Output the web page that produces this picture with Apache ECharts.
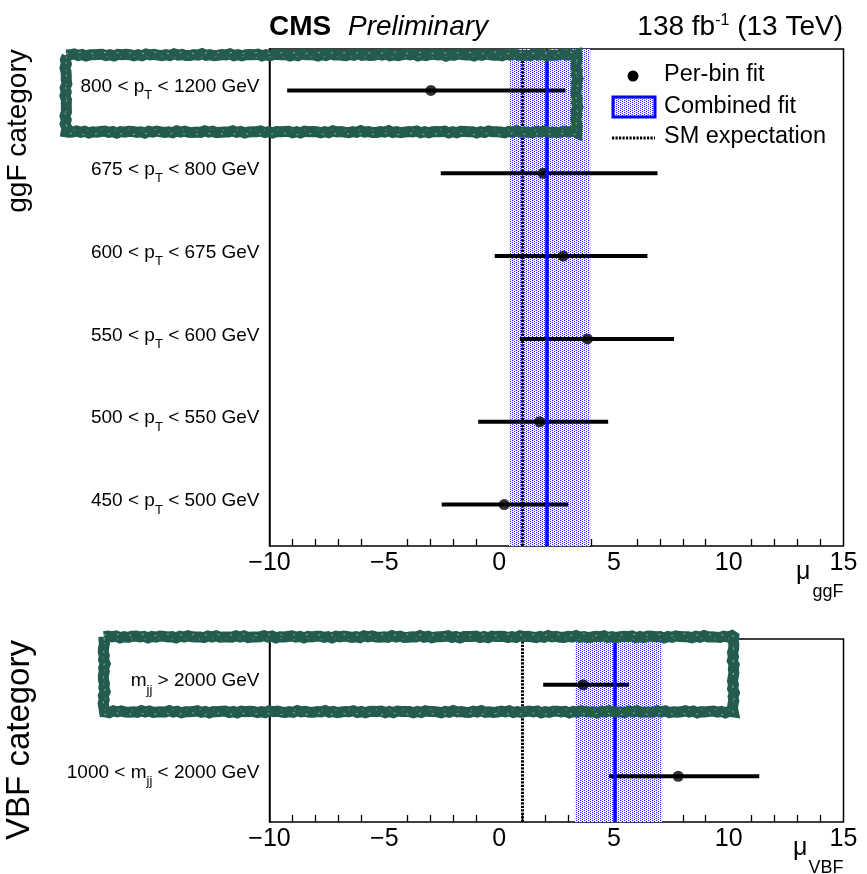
<!DOCTYPE html>
<html><head><meta charset="utf-8">
<script src="https://cdn.jsdelivr.net/npm/echarts@6/dist/echarts.min.js"></script>
<style>html,body{margin:0;padding:0;background:#fff}#c{width:867px;height:874px}</style>
</head><body><div id="c"></div>
<script>
// ---------------- data ----------------
const xMin = -10, xMax = 15, xStep = 5;
const smExpectation = 1;

// ggF panel (bottom -> top)
const ggfCategories = ['450 < p_T < 500 GeV', '500 < p_T < 550 GeV', '550 < p_T < 600 GeV',
                       '600 < p_T < 675 GeV', '675 < p_T < 800 GeV', '800 < p_T < 1200 GeV'];
const ggfCentral = [0.22, 1.77, 3.85, 2.79, 1.92, -2.97];
const ggfLow     = [-2.50, -0.91, 0.90, -0.19, -2.54, -9.23];
const ggfHigh    = [3.01, 4.75, 7.62, 6.46, 6.90, 2.89];
const ggfCombined = [0.43, 2.08, 3.97]; // low, central, high

// VBF panel (bottom -> top)
const vbfCategories = ['1000 < m_jj < 2000 GeV', 'm_jj > 2000 GeV'];
const vbfCentral = [7.80, 3.66];
const vbfLow     = [4.79, 1.92];
const vbfHigh    = [11.33, 5.66];
const vbfCombined = [3.30, 5.04, 7.10];

// highlighted rows (annotation boxes)
const highlights = [
  {panel: 0, category: '800 < p_T < 1200 GeV', xEnd: 3.38},
  {panel: 1, category: 'm_jj > 2000 GeV', xEnd: 10.2}
];

// ---------------- style ----------------
const FF = '"Liberation Sans", Arial, Helvetica, sans-serif';
const G = [
  {left: 269.5, top: 49, width: 574, height: 497},
  {left: 269.5, top: 639, width: 574, height: 183}
];

const pc = document.createElement('canvas'); pc.width = 4; pc.height = 4;
const pctx = pc.getContext('2d');
pctx.fillStyle = '#ffffff'; pctx.fillRect(0, 0, 4, 4);
pctx.fillStyle = '#2a2aff';
[[0,0],[2,1],[0,2],[2,3]].forEach(p => pctx.fillRect(p[0], p[1], 1, 1));
pctx.fillStyle = '#c8c8ff';
[[1,0],[3,2]].forEach(p => pctx.fillRect(p[0], p[1], 1, 1));
const bandPattern = {image: pc, repeat: 'repeat'};
const smDash = [2.2, 1.3];

function catLabel(v) {
  return v.replace(/^(.*?)_(\w+)(.*)$/, (m, a, b, c) => '{n|' + a + '}{s|' + b + '}{n|' + c + '}');
}
const labelRich = {
  n: {fontSize: 19, lineHeight: 22, color: '#000', fontFamily: FF},
  s: {fontSize: 13, lineHeight: 4, padding: [18, 0, 0, 0], color: '#000', fontFamily: FF}
};

function xAxisCfg(i) {
  return {
    gridIndex: i, type: 'value', min: xMin, max: xMax, interval: xStep,
    axisLine: {onZero: false, lineStyle: {color: '#000', width: 1.5}},
    axisTick: {inside: true, length: 13, lineStyle: {color: '#000', width: 1.3}},
    minorTick: {show: true, splitNumber: 5, length: 7, lineStyle: {color: '#000', width: 1.3}},
    splitLine: {show: false},
    axisLabel: {fontSize: 25, color: '#000', fontFamily: FF, margin: 5,
      formatter: v => String(v).replace('-', '\u2212')}
  };
}
function yAxisCfg(i, cats) {
  return {
    gridIndex: i, type: 'category', data: cats,
    axisLine: {onZero: false, lineStyle: {color: '#000', width: 1.5}},
    axisTick: {inside: true, length: 23, alignWithLabel: true, lineStyle: {color: '#000', width: 1.3}},
    axisLabel: {margin: 10, formatter: catLabel, rich: labelRich, padding: [0, 0, 7, 0]},
    splitLine: {show: false}
  };
}
function errRender(params, api) {
  const a = api.coord([api.value(0), api.value(2)]);
  const b = api.coord([api.value(1), api.value(2)]);
  return {type: 'line', shape: {x1: a[0], y1: a[1], x2: b[0], y2: b[1]},
          style: {stroke: '#000', lineWidth: 4}};
}
function panelSeries(i, central, low, high, comb) {
  return [
    {type: 'scatter', xAxisIndex: i, yAxisIndex: i, data: [], z: 1, silent: true,
     markArea: {silent: true, itemStyle: {color: bandPattern},
       data: [[{xAxis: comb[0]}, {xAxis: comb[2]}]]},
     markLine: {silent: true, symbol: ['none', 'none'], label: {show: false},
       data: [
         {xAxis: smExpectation, lineStyle: {color: '#000', width: 3, type: smDash}},
         {xAxis: comb[1], lineStyle: {color: '#0000ff', width: 3.5, type: 'solid'}}
       ]}},
    {type: 'custom', xAxisIndex: i, yAxisIndex: i, z: 3, silent: true,
     renderItem: errRender, encode: {x: [0, 1], y: 2},
     data: low.map((l, k) => [l, high[k], k])},
    {type: 'scatter', xAxisIndex: i, yAxisIndex: i, z: 4, silent: true,
     symbol: 'circle', symbolSize: 11, itemStyle: {color: '#000'},
     data: central.map((c, k) => [c, k])}
  ];
}

const chart = echarts.init(document.getElementById('c'), null, {renderer: 'canvas'});
chart.setOption({
  animation: false,
  backgroundColor: '#fff',
  grid: G.map(g => Object.assign({show: true, borderColor: '#000', borderWidth: 1.5, backgroundColor: 'transparent'}, g)),
  xAxis: [xAxisCfg(0), xAxisCfg(1)],
  yAxis: [yAxisCfg(0, ggfCategories), yAxisCfg(1, vbfCategories)],
  series: [].concat(
    panelSeries(0, ggfCentral, ggfLow, ggfHigh, ggfCombined),
    panelSeries(1, vbfCentral, vbfLow, vbfHigh, vbfCombined)
  )
});

// ---------------- decorations ----------------
function wobble(k, s) { return 0.7 * Math.sin(k * 2.73 + s) + 0.5 * Math.sin(k * 5.31 + 2 * s); }
function roughRect(x0, y0, x1, y1, s) {
  const pts = []; let k = 0; const st = 4;
  for (let x = x0; x < x1; x += st) pts.push([x, y0 + wobble(k++, s)]);
  for (let y = y0; y < y1; y += st) pts.push([x1 + wobble(k++, s), y]);
  for (let x = x1; x > x0; x -= st) pts.push([x, y1 + wobble(k++, s)]);
  for (let y = y1; y > y0; y -= st) pts.push([x0 + wobble(k++, s), y]);
  pts.push(pts[0]);
  return pts;
}
const boxSpec = [
  {left: 66, up: 35.5, down: 41.5},
  {left: 104, up: 48, down: 27}
];
const graphics = [];
highlights.forEach((h, idx) => {
  const cats = h.panel === 0 ? ggfCategories : vbfCategories;
  const p = chart.convertToPixel({xAxisIndex: h.panel, yAxisIndex: h.panel}, [h.xEnd, cats.indexOf(h.category)]);
  const sp = boxSpec[idx];
  graphics.push({type: 'polyline', z: 100, shape: {points: roughRect(sp.left, p[1] - sp.up, p[0], p[1] + sp.down, idx * 3.1)},
    style: {stroke: '#235b4f', lineWidth: 11, lineJoin: 'miter', fill: null}});
  graphics.push({type: 'polyline', z: 101, shape: {points: roughRect(sp.left, p[1] - sp.up - 2, p[0], p[1] + sp.down + 2, idx * 3.1 + 1)},
    style: {stroke: 'rgba(255,255,255,0.5)', lineWidth: 1, lineDash: [2, 11], fill: null}});
  graphics.push({type: 'polyline', z: 101, shape: {points: roughRect(sp.left, p[1] - sp.up + 2, p[0], p[1] + sp.down - 2, idx * 3.1 + 2)},
    style: {stroke: 'rgba(255,255,255,0.4)', lineWidth: 1, lineDash: [1, 13], fill: null}});
});

function txt(x, y, text, opt) {
  return Object.assign({type: 'text', x: x, y: y, z: 50,
    style: Object.assign({text: text, fill: '#000', font: '25px ' + FF, align: 'left', verticalAlign: 'middle'}, opt || {})});
}
// header
graphics.push(txt(269, 27, 'CMS', {font: 'bold 28px ' + FF}));
graphics.push(txt(348, 27, 'Preliminary', {font: 'italic 28px ' + FF}));
graphics.push({type: 'text', x: 843, y: 27, z: 50, style: {
  text: '{a|138 fb}{b|-1}{a| (13 TeV)}', align: 'right', verticalAlign: 'middle',
  rich: {a: {fontSize: 28, fontFamily: FF, fill: '#000', lineHeight: 32},
         b: {fontSize: 16, fontFamily: FF, fill: '#000', lineHeight: 32, padding: [0, 0, 13, 0]}}}});
// y titles
graphics.push({type: 'text', x: 18, y: 131, rotation: Math.PI / 2, z: 50,
  style: {text: 'ggF category', font: '28px ' + FF, fill: '#000', align: 'center', verticalAlign: 'middle'}});
graphics.push({type: 'text', x: 20, y: 740, rotation: Math.PI / 2, z: 50,
  style: {text: 'VBF category', font: '33px ' + FF, fill: '#000', align: 'center', verticalAlign: 'middle'}});
// x titles
[['ggF', 0], ['VBF', 1]].forEach(([sub, i]) => {
  const right = G[i].left + G[i].width, bot = G[i].top + G[i].height;
  graphics.push(txt(right, bot + 46, sub, {font: '18px ' + FF, align: 'right'}));
  graphics.push(txt(right - (sub === 'ggF' ? 33 : 36), bot + 26, '\u03bc', {font: '25px ' + FF, align: 'right'}));
});
// legend
graphics.push({type: 'circle', z: 50, shape: {cx: 633, cy: 76, r: 5.5}, style: {fill: '#000'}});
graphics.push(txt(664, 75, 'Per-bin fit', {font: '23.5px ' + FF}));
graphics.push({type: 'rect', z: 50, shape: {x: 613, y: 97, width: 42, height: 20},
  style: {fill: bandPattern, stroke: '#0000ff', lineWidth: 3}});
graphics.push(txt(664, 107, 'Combined fit', {font: '23.5px ' + FF}));
graphics.push({type: 'line', z: 50, shape: {x1: 612, y1: 138, x2: 655, y2: 138},
  style: {stroke: '#000', lineWidth: 3, lineDash: smDash}});
graphics.push(txt(664, 137, 'SM expectation', {font: '23.5px ' + FF}));

chart.setOption({graphic: graphics});
</script>
</body></html>
